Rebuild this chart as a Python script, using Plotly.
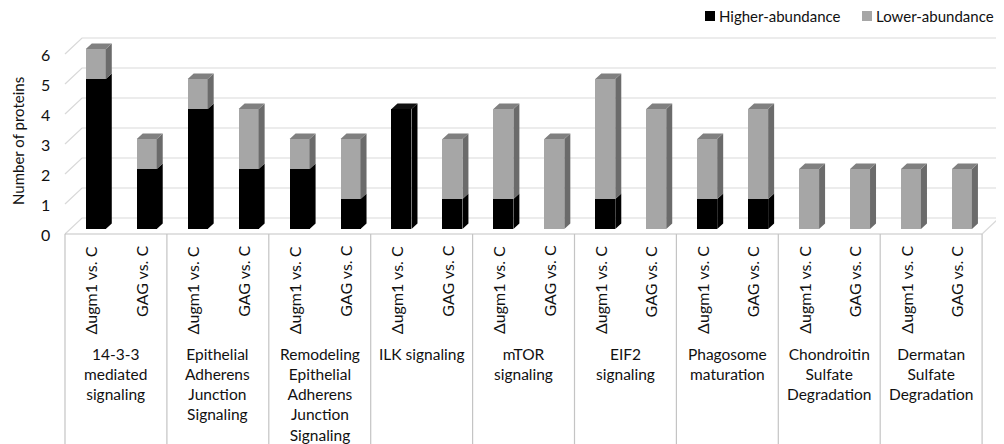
import plotly.graph_objects as go

# ---------------- data ----------------
pathways = [
    "14-3-3<br>mediated<br>signaling",
    "Epithelial<br>Adherens<br>Junction<br>Signaling",
    "Remodeling<br>Epithelial<br>Adherens<br>Junction<br>Signaling",
    "ILK signaling",
    "mTOR<br>signaling",
    "EIF2<br>signaling",
    "Phagosome<br>maturation",
    "Chondroitin<br>Sulfate<br>Degradation",
    "Dermatan<br>Sulfate<br>Degradation",
]
comparisons = ["Δugm1 vs. C", "GAG vs. C"]
higher_dugm1 = [5, 4, 2, 4, 1, 1, 1, 0, 0]
lower_dugm1 = [1, 1, 1, 0, 3, 4, 2, 2, 2]
higher_gag = [2, 2, 1, 1, 0, 0, 1, 0, 0]
lower_gag = [1, 2, 2, 2, 3, 4, 3, 2, 2]
y_ticks = [0, 1, 2, 3, 4, 5, 6]
y_title = "Number of proteins"
series_names = ["Higher-abundance", "Lower-abundance"]

# ---------------- geometry / style ----------------
OFF = 8                      # page body margin
W, H = 1004 - OFF, 444 - OFF  # figure size


def px(x):  # reference pixel -> figure pixel
    return x - OFF


X0, GW = px(65.0), 101.9     # front-left px, px per pathway group
Y0, UH = px(234.0), 30.0     # front zero px, px per protein
FONT = "Lato"
TXT = "#111111"
BLACK, GREY = "#000000", "#a6a6a6"
GREY_SIDE, GREY_TOP = "#6b6b6b", "#808080"
BLACK_SIDE, BLACK_TOP = "#000000", "#111111"
GRID, BOX = "#d9d9d9", "#c4c4c4"

xr = [(0 - X0) / GW, (W - X0) / GW]
yr = [(Y0 - H) / UH, Y0 / UH]
DX, DY = 17 / GW, 16 / UH      # back wall offset
BX, BY = 5.3 / GW, 5.0 / UH    # bar front plane offset
SX, SY = 6.0 / GW, 5.5 / UH    # bar depth faces
BW = 20 / GW

n = len(pathways)
xs, hi, lo = [], [], []
for j, (h_list, l_list) in enumerate([(higher_dugm1, lower_dugm1), (higher_gag, lower_gag)]):
    for g in range(n):
        xs.append(g + 0.25 + 0.5 * j)
        hi.append(h_list[g])
        lo.append(l_list[g])

fig = go.Figure()

faces = {BLACK_SIDE: ([], []), GREY_SIDE: ([], []), BLACK_TOP + "t": ([], []), GREY_TOP + "t": ([], [])}
for x, h, l in zip(xs, hi, lo):
    xl, xrr = x - BW / 2, x + BW / 2
    segs = [(0, h, BLACK_SIDE, BLACK_TOP + "t"), (h, h + l, GREY_SIDE, GREY_TOP + "t")]
    segs = [s for s in segs if s[1] > s[0]]
    for b0, b1, cs, ct in segs:
        fx, fy = faces[cs]
        fx += [xrr, xrr + SX, xrr + SX, xrr, xrr, None]
        fy += [b0, b0 + SY, b1 + SY, b1, b0, None]
    if segs:
        b1, ct = segs[-1][1], segs[-1][3]
        fx, fy = faces[ct]
        fx += [xl, xrr, xrr + SX, xl + SX, xl, None]
        fy += [b1, b1, b1 + SY, b1 + SY, b1, None]

for key, (fx, fy) in faces.items():
    col = key.rstrip("t")
    fig.add_trace(go.Scatter(x=fx, y=fy, mode="lines", fill="toself", fillcolor=col,
                             line=dict(width=0, color=col), showlegend=False,
                             hoverinfo="skip", xaxis="x2", yaxis="y2"))

fig.add_trace(go.Bar(x=xs, y=hi, name=series_names[0], marker=dict(color=BLACK, line=dict(width=0)),
                     width=BW, xaxis="x2", yaxis="y2", showlegend=False))
fig.add_trace(go.Bar(x=xs, y=lo, name=series_names[1], marker=dict(color=GREY, line=dict(width=0)),
                     width=BW, xaxis="x2", yaxis="y2", showlegend=False))

shapes = []
for v in y_ticks:
    shapes.append(dict(type="path", xref="x", yref="y", layer="below",
                       path=f"M 0,{v} L {DX},{v + DY} L {n + DX},{v + DY}",
                       line=dict(color=GRID, width=1.2)))
shapes.append(dict(type="line", xref="x", yref="y", layer="below", x0=n, y0=0, x1=n + DX, y1=DY,
                   line=dict(color=GRID, width=1.2)))
shapes.append(dict(type="line", xref="x", yref="y", x0=0, y0=0, x1=n, y1=0, line=dict(color=BOX, width=1.2)))
for g in range(n + 1):
    shapes.append(dict(type="line", xref="x", yref="y", x0=g, y0=0, x1=g, y1=yr[0],
                       line=dict(color=BOX, width=1.2)))

ann = []
# legend (manual, to match the original swatch/text spacing)
for name, col, sx in zip(series_names, [BLACK, GREY], [705, 862]):
    shapes.append(dict(type="rect", xref="paper", yref="paper",
                       x0=px(sx) / W, x1=px(sx + 10) / W,
                       y0=1 - px(21) / H, y1=1 - px(11) / H,
                       fillcolor=col, line=dict(width=0)))
    ann.append(dict(text=name, xref="paper", x=px(sx + 12) / W, yref="paper", y=1 - px(16) / H,
                    xanchor="left", yanchor="middle", showarrow=False, font=dict(size=15, color=TXT)))

for v in y_ticks:
    ann.append(dict(text=str(v), xref="paper", x=px(45) / W, yref="y", y=v, xanchor="center",
                    yanchor="middle", showarrow=False, font=dict(size=16, color=TXT)))
ann.append(dict(text=y_title, xref="paper", x=px(18) / W, yref="paper", y=1 - px(141) / H, textangle=-90,
                xanchor="center", yanchor="middle", showarrow=False, font=dict(size=15, color=TXT)))
for g in range(n):
    for j, c in enumerate(comparisons):
        ann.append(dict(text=c, xref="x", x=g + 0.25 + 0.5 * j, yref="y", y=-10 / UH,
                        textangle=-90, xanchor="center", yanchor="top", showarrow=False,
                        font=dict(size=16, color=TXT)))
    ann.append(dict(text=pathways[g], xref="x", x=g + 0.5, yref="y", y=-108.5 / UH,
                    xanchor="center", yanchor="top", align="center", showarrow=False,
                    font=dict(size=15.5, color=TXT)))

fig.update_layout(
    width=W, height=H, margin=dict(l=0, r=0, t=0, b=0),
    paper_bgcolor="white", plot_bgcolor="white",
    barmode="stack", bargap=0, showlegend=False,
    font=dict(family=FONT, size=15, color=TXT),
    xaxis=dict(range=xr, visible=False, fixedrange=True),
    yaxis=dict(range=yr, visible=False, fixedrange=True),
    xaxis2=dict(range=[xr[0] - BX, xr[1] - BX], overlaying="x", visible=False),
    yaxis2=dict(range=[yr[0] - BY, yr[1] - BY], overlaying="y", visible=False),
    shapes=shapes, annotations=ann,
)

fig.write_html("out.html")
